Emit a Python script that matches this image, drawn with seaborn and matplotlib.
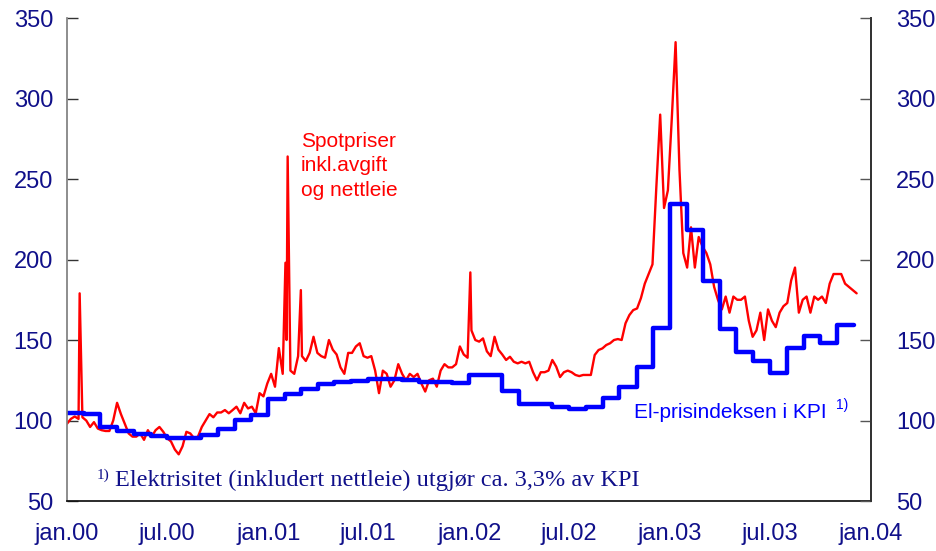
import matplotlib
matplotlib.use("Agg")
import matplotlib.pyplot as plt
import numpy as np
import pandas as pd
import seaborn as sns

# Spot prices incl. tax and grid rent, weekly readings from 1 jan 2000
spot_start = "2000-01-01"
spot_weekly = [
    98, 101, 102.5, 101, 102, 100, 96, 99, 95, 94, 93.5, 93.5, 100, 111, 104, 98,
    92, 90, 90, 92, 88, 94, 90, 94, 96, 93, 89, 87, 82, 79, 84, 93,
    92, 89, 90, 96, 100, 104, 102, 105, 105, 106.5, 104.5, 106.5, 108.6, 104.5, 111, 107.5,
    108.6, 104.5, 117, 115, 123, 129, 121, 145, 129, 150, 131, 129, 140, 140, 137, 142,
    152, 142, 140, 139, 150, 144, 141, 133, 129, 142, 142, 146, 148, 140, 139, 140,
    131, 117, 131, 129, 121, 125, 135, 129, 125, 129, 127, 129, 123, 118, 125, 126,
    121, 131, 135, 133, 133, 135, 146, 141, 139, 156, 150, 149, 151, 143, 140, 152,
    144, 141, 137.6, 139.6, 136.5, 135.5, 136.5, 135.5, 136.5, 130, 125, 130, 130, 131, 137.6, 133.5,
    127, 130, 131, 130, 128.3, 127.6, 128.3, 128.3, 128.3, 140.7, 143.8, 144.8, 146.9, 148, 150, 150.6,
    150, 160.4, 165.5, 168.6, 169.6, 176, 185, 191, 197, 245, 290, 232, 243, 287, 335, 256,
    204, 195, 220, 195, 214, 208, 204, 197, 183, 175, 169, 177, 167, 177, 175, 175,
    177, 162, 152, 156, 167, 150, 169, 162, 158, 167, 171, 173, 187, 195, 167, 175,
    177, 167, 177, 175, 177, 173, 185, 191, 191, 191, 185, 183, 181, 179,
]

# single-day price spikes
spike_dates = ["2000-01-24", "2001-02-01", "2001-02-05", "2001-03-01", "2002-01-03"]
spike_values = [179, 198, 264, 181, 192]

# El-prisindeksen i KPI, monthly from jan 2000
kpi_start = "2000-01-01"
kpi_monthly = [
    104.8, 103.8, 95.8, 93.7, 91.4, 90.4, 89.1, 89.0, 91.0, 94.7, 100.3, 103.2,
    113.2, 116.3, 119.4, 122.7, 123.7, 124.3, 125.6, 125.6, 125.2, 124.1, 124.0, 123.1,
    128.0, 128.0, 118.5, 110.5, 110.0, 108.2, 107.1, 108.6, 113.8, 120.6, 133.0, 157.3,
    234.5, 218.3, 186.8, 156.8, 142.3, 137.2, 129.7, 144.8, 152.5, 148.3, 159.3,
]

yticks = [50, 100, 150, 200, 250, 300, 350]
xtick_dates = ["2000-01-01", "2000-07-01", "2001-01-01", "2001-07-01", "2002-01-01",
               "2002-07-01", "2003-01-01", "2003-07-01", "2004-01-01"]
xtick_labels = ["jan.00", "jul.00", "jan.01", "jul.01", "jan.02",
                "jul.02", "jan.03", "jul.03", "jan.04"]

navy = "#10108a"

sns.set_theme(style="white")
plt.rcParams["font.family"] = ["Liberation Sans", "DejaVu Sans"]
plt.rcParams["font.size"] = 15

spot = pd.DataFrame({
    "dato": pd.date_range(spot_start, periods=len(spot_weekly), freq="7D"),
    "verdi": spot_weekly,
})
spikes = pd.DataFrame({"dato": pd.to_datetime(spike_dates), "verdi": spike_values})
spot = pd.concat([spot, spikes]).sort_values("dato").reset_index(drop=True)

kpi_dates = pd.date_range(kpi_start, periods=len(kpi_monthly) + 1, freq="MS")
kpi = pd.DataFrame({"dato": kpi_dates, "verdi": kpi_monthly + [kpi_monthly[-1]]})

fig = plt.figure(figsize=(9.37, 5.51), dpi=100)
ax = fig.add_axes([0.0715, 0.0907, 0.858, 0.8766])

sns.lineplot(data=spot, x="dato", y="verdi", color="#ff0000", lw=1.7,
             estimator=None, ax=ax)
sns.lineplot(data=kpi, x="dato", y="verdi", color="#0000ff", lw=3.2,
             drawstyle="steps-post", estimator=None, ax=ax)

ax.set_xlim(pd.Timestamp("2000-01-01"), pd.Timestamp("2004-01-01"))
ax.set_ylim(50, 350)
ax.set_xlabel("")
ax.set_ylabel("")
ax.set_xticks(pd.to_datetime(xtick_dates))
ax.set_xticklabels(xtick_labels)
ax.set_yticks(yticks)
ax.tick_params(axis="x", direction="in", length=6, width=1, colors="#333333",
               labelcolor=navy, labelsize=17, pad=16)
ax.tick_params(axis="y", direction="in", length=8, width=1, colors="#333333",
               labelcolor=navy, labelsize=17, pad=10)

ax2 = ax.twinx()
ax2.set_ylim(50, 350)
ax2.set_yticks(yticks)
ax2.tick_params(axis="y", direction="in", length=8, width=1, colors="#555555",
                labelcolor=navy, labelsize=17, pad=18)

for a in (ax, ax2):
    a.spines["top"].set_visible(False)
ax.spines["left"].set_color("#808080")
ax.spines["bottom"].set_color("#111111")
ax2.spines["right"].set_color("#333333")
ax2.spines["left"].set_visible(False)
ax2.spines["bottom"].set_visible(False)

ax.text(0.291, 0.765, "Spotpriser\ninkl.avgift\nog nettleie", transform=ax.transAxes,
        color="#ff0000", fontsize=15, va="top", ha="left", linespacing=1.38)
ax.text(0.705, 0.172, "El-prisindeksen i KPI", transform=ax.transAxes,
        color="#0000ff", fontsize=15, va="baseline", ha="left")
ax.text(0.957, 0.19, "1)", transform=ax.transAxes,
        color="#0000ff", fontsize=10, va="baseline", ha="left")

ax.text(0.037, 0.046, "1)", transform=ax.transAxes, color=navy,
        fontsize=11, va="baseline", ha="left", family=["Liberation Serif"])
ax.text(0.060, 0.031, "Elektrisitet (inkludert nettleie) utgjør ca. 3,3% av KPI",
        transform=ax.transAxes, color=navy, fontsize=17.5, va="baseline", ha="left",
        family=["Liberation Serif"])

fig.savefig("out.png", dpi=100)
